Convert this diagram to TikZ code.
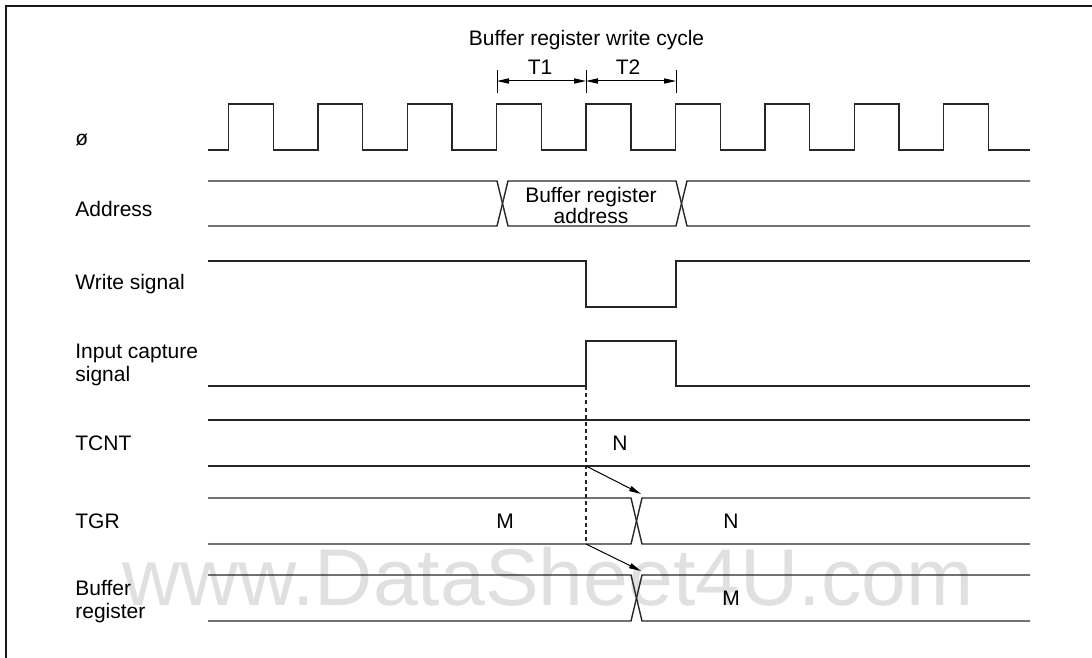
\documentclass[tikz,border=0pt]{standalone}
\usepackage{fontspec}
\setmainfont{Liberation Sans}
\usetikzlibrary{arrows.meta}

\begin{document}
\begin{tikzpicture}[
    x=0.5pt, y=-0.5pt,
    wave/.style={line width=0.7pt, black!85},
    frame/.style={line width=0.7pt, black!90},
    lbl/.style={anchor=base west, font=\fontsize{10.5}{11.5}\selectfont, align=left, inner sep=0pt},
    txt/.style={anchor=base, font=\fontsize{10.5}{11.5}\selectfont, align=center, inner sep=0pt},
    dimline/.style={{Triangle[length=6pt,width=2.6pt]}-{Triangle[length=6pt,width=2.6pt]}, line width=0.5pt},
    cause/.style={-{Triangle[length=6pt,width=2.6pt]}, line width=0.5pt},
    sample/.style={line width=0.6pt, dash pattern=on 2pt off 1.6pt, black!85}
]
\useasboundingbox (0,0) rectangle (1092,658);

% Watermark
\node[anchor=base west, inner sep=0pt, text=black!12, font=\fontsize{40.3}{41}\selectfont] (wm) at (122,605) {www.DataSheet4U.com};

% Frame (left and top only)
\draw[frame] (6,658) -- (6,6) -- (1092,6);

% Signal names (base = last line)
\node[lbl] (phi) at (75,146) {ø};
\node[lbl] (addr) at (75,216) {Address};
\node[lbl] (wr) at (75,289) {Write signal};
\node[lbl] (icap) at (75,381) {Input capture\\signal};
\node[lbl] (tcnt) at (75,450) {TCNT};
\node[lbl] (tgr) at (75,528) {TGR};
\node[lbl] (buf) at (75,618) {Buffer\\register};

% Write cycle dimension
\node[txt] (cyc) at (586.5,46) {Buffer register write cycle};
\draw[line width=0.5pt] (497,70) -- (497,93);
\draw[line width=0.5pt] (586,70) -- (586,93);
\draw[line width=0.5pt] (676,70) -- (676,93);
\coordinate (d1) at (497,81);
\coordinate (d2) at (586,81);
\coordinate (d3) at (676,81);
\draw[dimline] (d1) -- (d2);
\draw[dimline] (d2) -- (d3);
\node[txt] (tA) at (540,75) {T1};
\node[txt] (tB) at (628,75) {T2};

% Clock
\draw[wave] (208,150) foreach \i in {0,...,8} {
    -- ({228.5+89.4*\i},150) -- ({228.5+89.4*\i},104)
    -- ({273.2+89.4*\i},104) -- ({273.2+89.4*\i},150)
} -- (1030,150);

% Address bus
\draw[wave] (208,181) -- (497,181) -- (508,226) -- (676,226) -- (687,181) -- (1030,181);
\draw[wave] (208,226) -- (497,226) -- (508,181) -- (676,181) -- (687,226) -- (1030,226);
\node[txt] (badr) at (591,223) {Buffer register\\[-1pt]address};

% Write signal
\draw[wave] (208,261) -- (586,261) -- (586,307) -- (676,307) -- (676,261) -- (1030,261);

% Input capture signal
\draw[wave] (208,386) -- (586,386) -- (586,341) -- (676,341) -- (676,386) -- (1030,386);

% TCNT
\draw[wave] (208,420) -- (1030,420);
\draw[wave] (208,466) -- (1030,466);
\node[txt] (nA) at (620,450) {N};

% TGR
\draw[wave] (208,498) -- (631,498) -- (642,544) -- (1030,544);
\draw[wave] (208,544) -- (631,544) -- (642,498) -- (1030,498);
\node[txt] (mA) at (505,528) {M};
\node[txt] (nB) at (731,528) {N};

% Buffer register
\draw[wave] (208,575) -- (631,575) -- (642,621) -- (1030,621);
\draw[wave] (208,621) -- (631,621) -- (642,575) -- (1030,575);
\node[txt] (mB) at (731,605) {M};

% Capture timing
\coordinate (capt) at (586,386);
\coordinate (tcntb) at (586,466);
\coordinate (tgrb) at (586,544);
\coordinate (tgrx) at (641,494);
\coordinate (bufx) at (641,571);
\draw[sample] (capt) -- (tgrb);
\draw[cause] (tcntb) -- (tgrx);
\draw[cause] (tgrb) -- (bufx);
\end{tikzpicture}
\end{document}
